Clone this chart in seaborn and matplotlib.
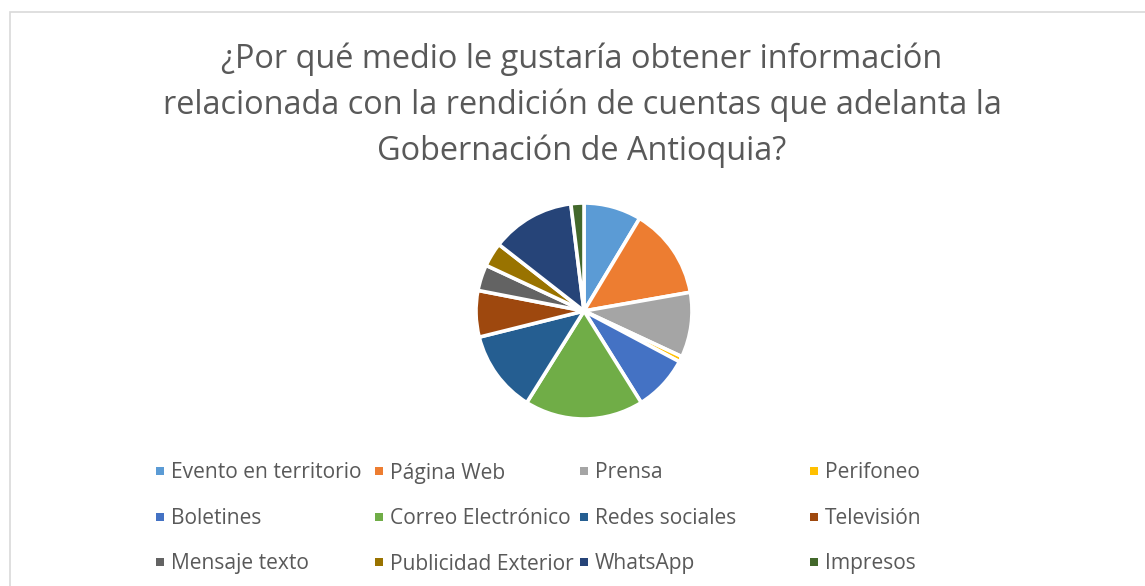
import matplotlib
matplotlib.use("Agg")
import matplotlib.pyplot as plt
import seaborn as sns
from matplotlib.patches import Rectangle

categories = ["Evento en territorio", "Página Web", "Prensa", "Perifoneo",
              "Boletines", "Correo Electrónico", "Redes sociales", "Televisión",
              "Mensaje texto", "Publicidad Exterior", "WhatsApp", "Impresos"]
values = [31, 49, 35, 3, 30, 64, 44, 25, 14, 13, 45, 7]
colors = ["#5B9BD5", "#ED7D31", "#A5A5A5", "#FFC000", "#4472C4", "#70AD47",
          "#255E91", "#9E480E", "#636363", "#997300", "#264478", "#43682B"]
title = ("¿Por qué medio le gustaría obtener información\n"
         "relacionada con la rendición de cuentas que adelanta la\n"
         "Gobernación de Antioquia?")

sns.set_theme(style="white")
plt.rcParams['font.family'] = ['Open Sans', 'DejaVu Sans']

W, H = 1145, 586
fig = plt.figure(figsize=(W / 100, H / 100), dpi=100)
fig.patch.set_facecolor("white")

# chart border
fig.patches.append(Rectangle((10 / W, -0.01), 1.2, 1 - 12 / H + 0.01,
                             transform=fig.transFigure, fill=False,
                             edgecolor="#D9D9D9", linewidth=1.2))

# pie axes: center (584,312), radius ~107
cx, cy, r = 584, 311, 108
ax = fig.add_axes([(cx - r) / W, (H - cy - r) / H, 2 * r / W, 2 * r / H])
ax.pie(values, colors=sns.color_palette(colors), startangle=90, counterclock=False,
       wedgeprops=dict(edgecolor="white", linewidth=2.6))
ax.set_aspect("equal")
ax.set_xlim(-1.0, 1.0)
ax.set_ylim(-1.0, 1.0)
ax.axis("off")

fig.text(582 / W, 1 - 105 / H, title, ha="center", va="center",
         fontsize=23.4, color="#595959", linespacing=1.49)

# legend, row-wise like Excel
col_x = [160, 379, 584, 814]
row_y = [471, 517, 562]
for i, (lab, c) in enumerate(zip(categories, colors)):
    row, col = divmod(i, 4)
    x, y = col_x[col], row_y[row]
    fig.patches.append(Rectangle(((x - 4) / W, (H - y - 4) / H), 8 / W, 8 / H,
                                 transform=fig.transFigure, facecolor=c,
                                 edgecolor="none"))
    fig.text((x + 11) / W, 1 - (y + 2) / H, lab, ha="left", va="center",
             fontsize=15.1, color="#595959")

fig.savefig("out.png", dpi=100, facecolor="white")
